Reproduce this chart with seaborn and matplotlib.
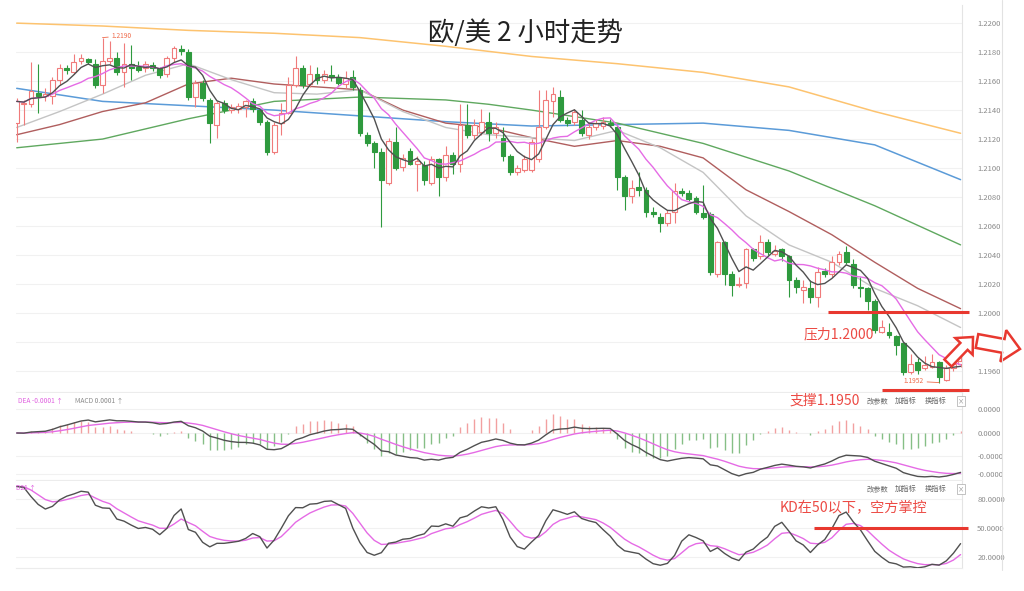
import numpy as np
import pandas as pd
import matplotlib
matplotlib.use("Agg")
import matplotlib.pyplot as plt
import seaborn as sns
from matplotlib.patches import FancyArrow
from matplotlib.transforms import IdentityTransform
from matplotlib.lines import Line2D

sns.set_style("white")
plt.rcParams['font.family'] = ['Noto Sans CJK SC', 'DejaVu Sans']
plt.rcParams['axes.unicode_minus'] = False

# ---------------- data (EUR/USD 2h candles) ----------------
opens = [1.2131,1.2144,1.2144,1.2152,1.2150,1.2150,1.2161,1.2169,1.2166,1.2174,
         1.2175,1.2172,1.2157,1.2174,1.2176,1.2166,1.2172,1.2170,1.2169,1.2171,
         1.2169,1.2165,1.2176,1.2182,1.2180,1.2149,1.2159,1.2147,1.2130,1.2145,
         1.2140,1.2141,1.2142,1.2146,1.2140,1.2132,1.2111,1.2131,1.2138,1.2157,
         1.2169,1.2158,1.2165,1.2161,1.2164,1.2163,1.2158,1.2163,1.2154,1.2123,
         1.2117,1.2111,1.2090,1.2118,1.2101,1.2112,1.2103,1.2102,1.2090,1.2106,
         1.2094,1.2109,1.2103,1.2130,1.2123,1.2125,1.2132,1.2124,1.2121,1.2108,
         1.2097,1.2099,1.2099,1.2106,1.2128,1.2146,1.2149,1.2133,1.2132,1.2133,
         1.2123,1.2128,1.2129,1.2131,1.2128,1.2094,1.2081,1.2087,1.2085,1.2070,
         1.2066,1.2062,1.2070,1.2084,1.2083,1.2079,1.2069,1.2068,1.2027,1.2049,
         1.2027,1.2019,1.2021,1.2044,1.2039,1.2049,1.2041,1.2044,1.2039,1.2023,
         1.2016,1.2017,1.2011,1.2029,1.2027,1.2035,1.2042,1.2034,1.2018,1.2017,
         1.2008,1.1987,1.1987,1.1984,1.1979,1.1959,1.1966,1.1962,1.1963,1.1966,
         1.1954,1.1962,1.1965]
highs = [1.2148,1.2147,1.2173,1.2172,1.2155,1.2163,1.2172,1.2171,1.2179,1.2179,
         1.2176,1.2175,1.2190,1.2188,1.2180,1.2186,1.2185,1.2174,1.2174,1.2173,
         1.2170,1.2177,1.2184,1.2185,1.2182,1.2161,1.2161,1.2148,1.2146,1.2147,
         1.2144,1.2145,1.2147,1.2148,1.2141,1.2133,1.2132,1.2145,1.2163,1.2177,
         1.2171,1.2171,1.2170,1.2168,1.2171,1.2165,1.2167,1.2168,1.2156,1.2125,
         1.2119,1.2114,1.2121,1.2128,1.2110,1.2114,1.2108,1.2105,1.2108,1.2107,
         1.2115,1.2111,1.2144,1.2144,1.2134,1.2141,1.2139,1.2132,1.2128,1.2110,
         1.2102,1.2109,1.2120,1.2154,1.2154,1.2156,1.2154,1.2135,1.2141,1.2140,
         1.2132,1.2134,1.2135,1.2134,1.2130,1.2095,1.2092,1.2097,1.2087,1.2073,
         1.2069,1.2071,1.2090,1.2086,1.2085,1.2081,1.2088,1.2070,1.2050,1.2050,
         1.2029,1.2025,1.2045,1.2045,1.2054,1.2051,1.2047,1.2045,1.2040,1.2025,
         1.2023,1.2023,1.2032,1.2031,1.2039,1.2043,1.2046,1.2037,1.2025,1.2018,
         1.2010,1.1995,1.1993,1.1985,1.1980,1.1972,1.1969,1.1970,1.1972,1.1967,
         1.1964,1.1968,1.1970]
lows = [1.2118,1.2130,1.2142,1.2138,1.2146,1.2144,1.2157,1.2165,1.2165,1.2172,
        1.2172,1.2155,1.2152,1.2172,1.2164,1.2156,1.2161,1.2166,1.2166,1.2167,
        1.2162,1.2163,1.2173,1.2178,1.2147,1.2142,1.2146,1.2117,1.2121,1.2138,
        1.2138,1.2138,1.2135,1.2139,1.2130,1.2109,1.2110,1.2123,1.2137,1.2156,
        1.2155,1.2156,1.2158,1.2159,1.2160,1.2157,1.2155,1.2154,1.2122,1.2115,
        1.2100,1.2059,1.2088,1.2099,1.2098,1.2102,1.2084,1.2088,1.2088,1.2081,
        1.2091,1.2096,1.2097,1.2121,1.2120,1.2123,1.2119,1.2121,1.2105,1.2095,
        1.2095,1.2097,1.2097,1.2104,1.2127,1.2135,1.2132,1.2129,1.2130,1.2122,
        1.2120,1.2126,1.2127,1.2128,1.2085,1.2071,1.2076,1.2081,1.2066,1.2066,
        1.2056,1.2060,1.2062,1.2081,1.2077,1.2068,1.2065,1.2026,1.2025,1.2019,
        1.2012,1.2018,1.2017,1.2036,1.2037,1.2040,1.2039,1.2036,1.2011,1.2014,
        1.2007,1.2007,1.2004,1.2025,1.2025,1.2033,1.2034,1.2017,1.2011,1.2002,
        1.1986,1.1986,1.1983,1.1971,1.1957,1.1958,1.1958,1.1961,1.1962,1.1952,
        1.1953,1.1960,1.1963]
closes = [1.2146,1.2145,1.2153,1.2150,1.2151,1.2161,1.2169,1.2168,1.2173,1.2176,
          1.2173,1.2157,1.2174,1.2176,1.2166,1.2172,1.2169,1.2168,1.2172,1.2169,
          1.2164,1.2176,1.2183,1.2181,1.2149,1.2159,1.2148,1.2131,1.2145,1.2140,
          1.2142,1.2143,1.2146,1.2141,1.2132,1.2111,1.2130,1.2138,1.2157,1.2169,
          1.2157,1.2165,1.2161,1.2165,1.2163,1.2159,1.2162,1.2156,1.2124,1.2117,
          1.2111,1.2092,1.2119,1.2100,1.2107,1.2103,1.2105,1.2092,1.2106,1.2094,
          1.2109,1.2103,1.2130,1.2123,1.2130,1.2132,1.2124,1.2128,1.2108,1.2097,
          1.2100,1.2106,1.2118,1.2128,1.2147,1.2151,1.2133,1.2131,1.2139,1.2124,
          1.2128,1.2131,1.2132,1.2130,1.2094,1.2081,1.2086,1.2085,1.2070,1.2068,
          1.2062,1.2069,1.2084,1.2083,1.2079,1.2070,1.2066,1.2028,1.2049,1.2027,
          1.2019,1.2020,1.2044,1.2038,1.2049,1.2042,1.2043,1.2039,1.2023,1.2018,
          1.2018,1.2011,1.2028,1.2027,1.2035,1.2041,1.2035,1.2019,1.2017,1.2008,
          1.1988,1.1990,1.1985,1.1978,1.1959,1.1965,1.1961,1.1964,1.1966,1.1956,
          1.1962,1.1965,1.1967]

# longer moving averages (candle index, price)
gray_idx = [0, 6, 12, 18, 24, 30, 36, 42, 48, 54, 60, 66, 72, 78, 84, 90, 96, 102, 108, 114, 120, 126, 132]
gray_vals = [1.2128, 1.2139, 1.2151, 1.2164, 1.2172, 1.2161, 1.2152, 1.2151, 1.2154, 1.2139, 1.2128, 1.2123,
             1.2121, 1.2119, 1.2126, 1.2114, 1.2097, 1.2067, 1.2047, 1.2035, 1.2017, 1.2005, 1.1990]
brown_idx = [0, 6, 12, 18, 24, 30, 36, 42, 48, 54, 60, 66, 72, 78, 84, 90, 96, 102, 108, 114, 120, 126, 132]
brown_vals = [1.2123, 1.2130, 1.2139, 1.2145, 1.2158, 1.2162, 1.2158, 1.2156, 1.2154, 1.2140, 1.2131, 1.2128,
              1.2121, 1.2115, 1.2119, 1.2115, 1.2107, 1.2085, 1.2070, 1.2054, 1.2035, 1.2017, 1.2003]
green_idx = [0, 12, 24, 36, 48, 60, 66, 72, 84, 96, 108, 120, 132]
green_vals = [1.2114, 1.2120, 1.2134, 1.2146, 1.2149, 1.2147, 1.2144, 1.2140, 1.2131, 1.2117, 1.2098, 1.2074, 1.2047]
blue_idx = [0, 12, 24, 36, 48, 60, 72, 84, 96, 108, 120, 132]
blue_vals = [1.2155, 1.2146, 1.2143, 1.2140, 1.2136, 1.2132, 1.2129, 1.2130, 1.2131, 1.2126, 1.2116, 1.2092]
orange_idx = [0, 12, 24, 36, 48, 60, 72, 84, 96, 108, 120, 132]
orange_vals = [1.2200, 1.2198, 1.2195, 1.2193, 1.2190, 1.2184, 1.2177, 1.2172, 1.2166, 1.2156, 1.2139, 1.2124]

price_ticks = [1.1960, 1.1980, 1.2000, 1.2020, 1.2040, 1.2060, 1.2080, 1.2100, 1.2120, 1.2140, 1.2160, 1.2180, 1.2200]
macd_tick_labels = ["0.0000", "0.0000", "-0.0000", "-0.0000"]
kd_ticks = [80, 50, 20]
kd_tick_labels = ["80.0000", "50.0000", "20.0000"]

title = "欧/美 2 小时走势"
resist_level, resist_text = 1.2001, "压力1.2000"
support_level, support_text = 1.1947, "支撑1.1950"
kd_level, kd_text = 50, "KD在50以下，空方掌控"
tool_labels = ["改参数", "加指标", "换指标"]

# ---------------- derived series ----------------
df = pd.DataFrame({"open": opens, "high": highs, "low": lows, "close": closes})
df["i"] = np.arange(len(df))
df["ma5"] = df["close"].rolling(5, min_periods=1).mean()
df["ma10"] = df["close"].rolling(10, min_periods=1).mean()
ema12 = df["close"].ewm(span=12, adjust=False).mean()
ema26 = df["close"].ewm(span=26, adjust=False).mean()
df["dif"] = ema12 - ema26
df["dea"] = df["dif"].ewm(span=9, adjust=False).mean()
df["hist"] = 2 * (df["dif"] - df["dea"])
ln = df["low"].rolling(9, min_periods=1).min()
hn = df["high"].rolling(9, min_periods=1).max()
rsv = (df["close"] - ln) / (hn - ln) * 100
df["k"] = rsv.ewm(alpha=1/3, adjust=False).mean()
df["d"] = df["k"].ewm(alpha=1/3, adjust=False).mean()

# ---------------- figure layout ----------------
W, H = 1024, 591
fig = plt.figure(figsize=(W / 100, H / 100), dpi=100)
fig.patch.set_facecolor("white")

def axes_px(x0, y0, x1, y1):
    return fig.add_axes([x0 / W, 1 - y1 / H, (x1 - x0) / W, (y1 - y0) / H])

ax = axes_px(16, 5, 962, 392)
ax_m = axes_px(16, 393, 962, 480)
ax_k = axes_px(16, 481, 962, 568)

UP = "#f07b7b"
DN = "#2e9a3e"
RED = "#e8382f"
TXT_RED = "#ec4a44"

for a in (ax, ax_m, ax_k):
    a.set_facecolor("white")
    for s in ("left", "top"):
        a.spines[s].set_visible(False)
    a.spines["right"].set_color("#e4e4e4")
    a.spines["bottom"].set_color("#ececec")
    a.spines["right"].set_linewidth(0.8)
    a.spines["bottom"].set_linewidth(0.8)
    a.set_xticks([])
    a.yaxis.tick_right()
    a.tick_params(axis="y", length=0, pad=11, labelsize=5.5, labelcolor="#8a8a8a")
    a.grid(axis="y", color="#f1f1f1", linewidth=0.8)
    a.set_xlim(-0.1, len(df) - 0.9 + 0.1)

# ---------------- main price panel ----------------
ax.set_ylim(1.19455, 1.22125)
ax.set_yticks(price_ticks)
ax.set_yticklabels([f"{t:.4f}" for t in price_ticks])

for idx, vals, col, lw in [(orange_idx, orange_vals, "#fdc36f", 1.1),
                           (blue_idx, blue_vals, "#5b9bd8", 1.1),
                           (green_idx, green_vals, "#5fa85f", 1.0),
                           (brown_idx, brown_vals, "#b05e5e", 1.0),
                           (gray_idx, gray_vals, "#c4c4c4", 1.0)]:
    sns.lineplot(x=idx, y=vals, ax=ax, color=col, linewidth=lw, legend=False, zorder=1)

up = df["close"] >= df["open"]
cols = np.where(up, UP, DN)
ax.vlines(df["i"], df["low"], df["high"], colors=cols, linewidth=0.8, zorder=2)
body_lo = np.minimum(df["open"], df["close"])
body_h = np.maximum((df["close"] - df["open"]).abs(), 0.00004)
ax.bar(df["i"][up], body_h[up], bottom=body_lo[up], width=0.68, facecolor="white",
       edgecolor=UP, linewidth=0.8, zorder=3)
ax.bar(df["i"][~up], body_h[~up], bottom=body_lo[~up], width=0.68, facecolor=DN,
       edgecolor=DN, linewidth=0.8, zorder=3)

sns.lineplot(data=df, x="i", y="ma10", ax=ax, color="#e56be5", linewidth=1.0, legend=False, zorder=4)
sns.lineplot(data=df, x="i", y="ma5", ax=ax, color="#505050", linewidth=1.0, legend=False, zorder=5)

ih = int(df["high"].idxmax())
il = int(df["low"].idxmin())
ax.annotate(f"{df['high'][ih]:.4f}", xy=(ih, df["high"][ih]), xytext=(6.5, 1.2),
            textcoords="offset points", ha="left", va="center", fontsize=4.8, color="#ef6a4a",
            arrowprops=dict(arrowstyle="-", color="#ef6a4a", lw=0.6, shrinkA=0, shrinkB=0))
ax.annotate(f"{df['low'][il]:.4f}", xy=(il, df["low"][il]), xytext=(-11, 1),
            textcoords="offset points", ha="right", va="center", fontsize=4.8, color="#ef6a4a",
            arrowprops=dict(arrowstyle="-", color="#ef6a4a", lw=0.6, shrinkA=0, shrinkB=0))

n = len(df)
ax.hlines(resist_level, (822 - 16.7) / 7.1, n + 0.2, colors=RED, linewidth=2.2, zorder=6, clip_on=False)
ax.hlines(support_level, (876 - 16.7) / 7.1, n + 0.2, colors=RED, linewidth=2.2, zorder=6, clip_on=False)
ax.text((798 - 16.7) / 7.1, 1.1985, resist_text, ha="left", va="center", fontsize=10, color=TXT_RED, zorder=7)

fig.text(525 / W, 1 - 33 / H, title, ha="center", va="center", fontsize=19, color="#222222")
ax.set_xlabel("")
ax.set_ylabel("")

# ---------------- MACD panel ----------------
zero_px, top_px, bot_px = 433, 393, 480
neg = abs(min(df["dif"].min(), df["dea"].min(), df["hist"].min()))
pos = max(df["dif"].max(), df["dea"].max(), df["hist"].max())
s = max(neg / 44.0, pos / 36.0)
ax_m.set_ylim(-(bot_px - zero_px) * s, (zero_px - top_px) * s)
ax_m.set_yticks([(zero_px - p) * s for p in (409, 433, 456, 474)])
ax_m.set_yticklabels(macd_tick_labels)
hcols = np.where(df["hist"] >= 0, "#f2a0a0", "#86bf86")
ax_m.vlines(df["i"], 0, df["hist"], colors=hcols, linewidth=1.0, zorder=2)
sns.lineplot(data=df, x="i", y="dea", ax=ax_m, color="#e56be5", linewidth=1.0, legend=False, zorder=3)
sns.lineplot(data=df, x="i", y="dif", ax=ax_m, color="#505050", linewidth=1.0, legend=False, zorder=4)
ax_m.set_xlabel("")
ax_m.set_ylabel("")

# ---------------- KD panel ----------------
ax_k.set_ylim(8, 99)
ax_k.set_yticks(kd_ticks)
ax_k.set_yticklabels(kd_tick_labels)
sns.lineplot(data=df, x="i", y="d", ax=ax_k, color="#e56be5", linewidth=1.0, legend=False, zorder=3)
sns.lineplot(data=df, x="i", y="k", ax=ax_k, color="#505050", linewidth=1.0, legend=False, zorder=4)
ax_k.hlines(kd_level, (808 - 16.7) / 7.1, n + 0.1, colors=RED, linewidth=2.2, zorder=6, clip_on=False)
ax_k.set_xlabel("")
ax_k.set_ylabel("")

# ---------------- texts outside panels ----------------
fig.text(790 / W, 1 - 401 / H, support_text, ha="left", va="center", fontsize=10, color=TXT_RED)
fig.text(780 / W, 1 - 508 / H, kd_text, ha="left", va="center", fontsize=10.2, color=TXT_RED)

fig.text(18 / W, 1 - 401 / H, "DEA -0.0001 ↑", ha="left", va="center", fontsize=4.8, color="#e060e0")
fig.text(75 / W, 1 - 401 / H, "MACD 0.0001 ↑", ha="left", va="center", fontsize=4.8, color="#8a8a8a")
fig.text(16 / W, 1 - 488 / H, "D21 ↑", ha="left", va="center", fontsize=4.8, color="#e060e0")

for yy in (401, 489):
    for xx, lab in zip((867, 895, 925), tool_labels):
        fig.text(xx / W, 1 - yy / H, lab, ha="left", va="center", fontsize=5.2, color="#666666")
    fig.text(961 / W, 1 - yy / H, "×", ha="center", va="center", fontsize=4.5, color="#888888",
             bbox=dict(boxstyle="square,pad=0.15", fc="white", ec="#aaaaaa", lw=0.5))

fig.add_artist(Line2D([1002 / W, 1002 / W], [1 - 570 / H, 1.0], color="#e2e2e2", linewidth=0.8))

ident = IdentityTransform()
a1 = FancyArrow(948, H - 363, 25, 26, width=10, head_width=24, head_length=13,
                length_includes_head=True, fc="white", ec=RED, lw=1.8, transform=ident)
a2 = FancyArrow(977, H - 341, 43, -8, width=14, head_width=32, head_length=17,
                length_includes_head=True, fc="white", ec=RED, lw=1.8, transform=ident)
fig.patches.extend([a1, a2])

fig.savefig("out.png", dpi=100, facecolor="white")
